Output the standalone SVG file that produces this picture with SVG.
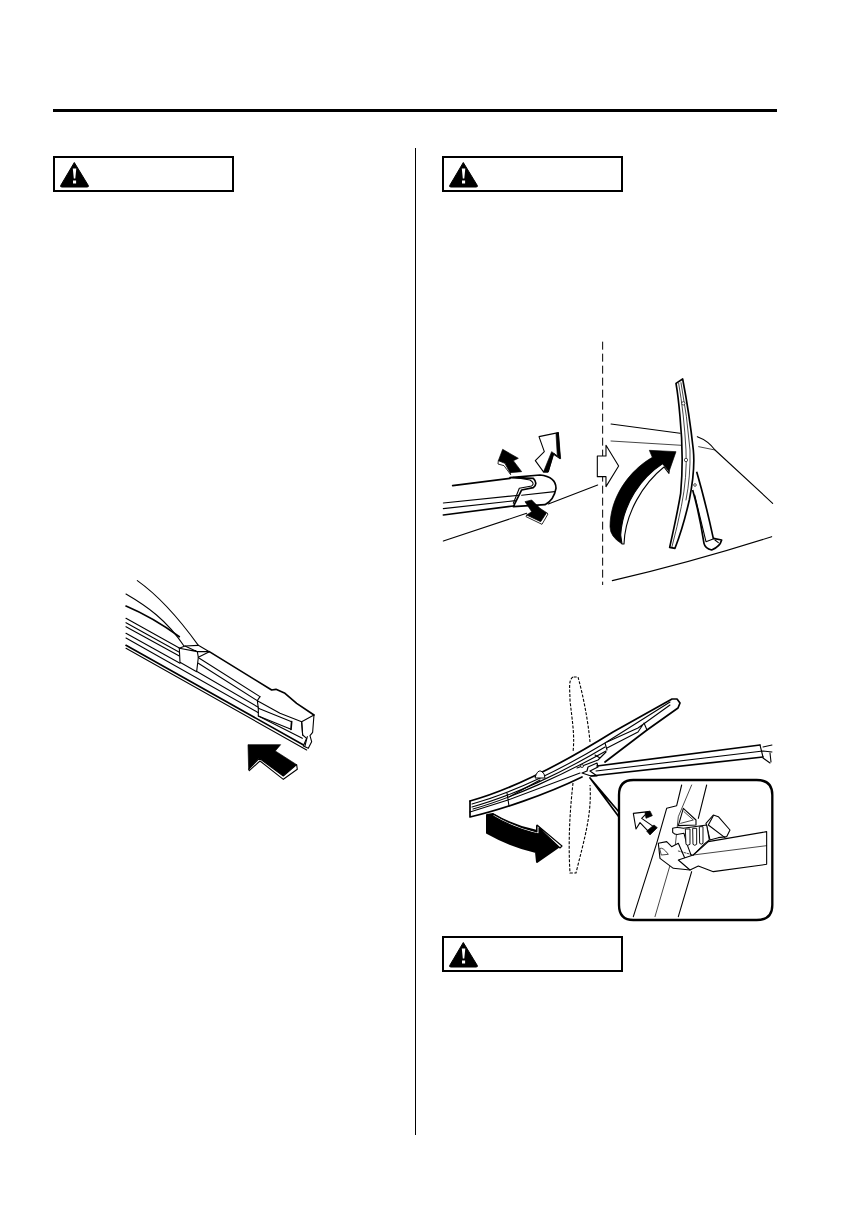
<svg xmlns="http://www.w3.org/2000/svg" width="866" height="1216" viewBox="0 0 866 1216">
<style>
.l{fill:none;stroke:#000;stroke-width:3.300;stroke-linejoin:round;stroke-linecap:round}
.m{fill:none;stroke:#000;stroke-width:5;stroke-linejoin:round;stroke-linecap:round}
.t{fill:none;stroke:#000;stroke-width:2.200;stroke-linejoin:round;stroke-linecap:round}
.w{fill:#fff;stroke:#000;stroke-width:3.300;stroke-linejoin:round}
.wm{fill:#fff;stroke:#000;stroke-width:5;stroke-linejoin:round}
.b{fill:#000;stroke:#000;stroke-width:2;stroke-linejoin:round}
.L{fill:none;stroke:#000;stroke-width:1.100;stroke-linejoin:round;stroke-linecap:round}
.M{fill:none;stroke:#000;stroke-width:1.700;stroke-linejoin:round;stroke-linecap:round}
.W{fill:#fff;stroke:#000;stroke-width:1.100;stroke-linejoin:round}
.d{fill:none;stroke:#000;stroke-width:3;stroke-dasharray:8 4}
.box{fill:#fff;stroke:#000;stroke-width:2}
</style>
<defs>
<g id="warn">
<rect class="box" x="0" y="0" width="179" height="34"/>
<path d="M20.300 5.500L34.300 28.500Q35 30 33 30H8Q6 30 6.700 28.500Z" fill="#000" stroke="#000" stroke-linejoin="round"/>
<path d="M18.800 11.500H22.300L21.300 21.500H19.800ZM19 23.500H22.100V26.500H19Z" fill="#fff"/>
</g>
</defs>
<rect width="866" height="1216" fill="#fff"/>
<g id="page-rules">
<rect x="53" y="109" width="724" height="3" fill="#000"/>
<rect x="415" y="148" width="1" height="987" fill="#000"/>
</g>
<g id="warning-1"><use href="#warn" x="54" y="157"/></g>
<g id="warning-2"><use href="#warn" x="443" y="157"/></g>
<g id="warning-3"><use href="#warn" x="443" y="937"/></g>

<g id="blade-end" transform="translate(110 570) scale(.3333)">
<path class="l" d="M82 32C150 80 210 150 265 226"/>
<path class="l" d="M48 72C110 108 170 150 222 228"/>
<path class="m" d="M48 108C100 130 160 165 208 200"/>
<path class="l" d="M48 145L208 234M48 158L208 247M48 170L208 258M48 190L210 280M48 204L445 428"/>
<path class="m" d="M48 226L590 530"/>
<path class="l" d="M48 235L590 540"/>
<path class="l" d="M268 265L450 380M265 280L442 392M262 305L445 412"/>
<path class="m" d="M298 245L485 360L498 358L525 370L560 400L612 435"/>
<path class="l" d="M450 380L442 392L445 415V438L577 505M442 392L510 430L575 455"/>
<path class="l" d="M445 415L545 455M445 438L543 478"/>
<path class="m" d="M545 455L543 478"/>
<path class="w" d="M208 235L225 228L265 226L298 245L265 262L260 305L210 277Z"/>
<path class="l" d="M225 228L262 245L298 245M262 245L265 262M208 235L262 245"/>
<path class="w" d="M575 455L612 435L608 487L600 497L605 515L595 535L580 528L590 505L578 495Z"/>
<path class="l" d="M575 455L578 495M592 500L585 528"/>
<path class="b" d="M414 524L512 524L496 543L560 584L520 618L448 565L416 598Z"/>
<path class="w" d="M448 565L416 598L418 602L450 573L520 628L562 598L560 584L520 618Z"/>
</g>

<g id="wiper-arm-detail" transform="translate(430 340) scale(.3333)">
<path class="d" style="stroke-width:3;stroke-dasharray:24 12" d="M518 5V735"/>
<path class="m" d="M68 437L240 415"/>
<path class="l" d="M40 489L275 465M40 506L256 482"/>
<path class="m" d="M40 525L250 498"/>
<path class="l" d="M40 603L290 520M355 492L503 435"/>
<path class="wm" d="M240 413L330 405Q378 410 378 445Q372 480 345 494L250 500L275 450L310 443Q325 430 310 415Z"/>
<path class="l" d="M275 466L374 455"/>
<path class="l" d="M250 412L300 420Q316 430 305 438L268 445L250 490"/>
<path class="b" d="M205 362L218 328L265 355L250 362L275 395L240 398L225 370Z"/>
<path class="w" style="stroke-width:2.500" d="M205 362L225 370L240 398L242 404L222 377L204 372Z"/>
<path class="b" d="M285 485L305 480L330 505L350 518L332 545L290 525L305 515Z"/>
<path class="w" style="stroke-width:2.500" d="M290 525L332 545L350 518L354 522L336 553L288 530Z"/>
<path class="w" d="M327 290L385 278L390 356L370 342L355 395L340 395L316 362L343 335Z"/>
<path class="b" d="M378 280L385 278L392 356L372 340L354 397L340 397L365 335L382 348Z"/>
<path class="w" d="M502 348H528V316L566 378L528 440V410H502Z"/>
</g>

<g id="wiper-raised" transform="translate(600 370) scale(.3333)">
<path class="l" d="M33 162L240 190M292 200Q325 212 345 240L518 400"/>
<path class="t" d="M33 213L245 226M296 230L345 240"/>
<path class="l" d="M37 632Q280 575 515 500"/>
<path class="wm" d="M228 40L248 27Q268 130 280 240Q286 300 268 390Q250 470 225 535L209 532Q232 430 242 370Q252 260 240 140Q235 80 228 40Z"/>
<path class="t" d="M236 40Q252 130 258 240Q262 320 244 410Q232 470 216 530M243 38Q262 140 270 240Q272 320 258 390"/>
<circle cx="250" cy="100" r="5" fill="#fff" stroke="#000" stroke-width="2"/>
<circle cx="258" cy="270" r="5" fill="#fff" stroke="#000" stroke-width="2"/>
<path class="wm" d="M290 305Q315 390 340 505L365 510Q360 530 335 540Q315 535 312 520Q298 430 278 360"/>
<path class="l" d="M284 375L318 515L345 505M345 510L355 518"/>
<circle cx="285" cy="345" r="4" fill="#fff" stroke="#000" stroke-width="2"/>
<path class="b" d="M148 241L228 245L207 305L188 283C125 322 70 400 64 500L66 522Q30 500 30 470C30 380 90 300 157 262Z"/>
<path class="w" d="M66 522L72 522C75 430 130 340 192 291L207 310L207 303L188 281C125 322 68 400 62 495Z"/>
</g>

<g id="wiper-lower">
<path class="d" style="stroke-width:1.100;stroke-dasharray:3 1.500" d="M573 677C568 680 570 690 570 700C572 720 575 735 573 752M573 783C570 810 568 840 570 873L576 873C584 840 592 815 590 785M590 742C588 720 583 695 578 677H573"/>
<path class="W" style="stroke:none" d="M470 801C510 790 560 765 613 732L672 699L680 703L678 708L647 730L605 762L582 777C545 795 500 810 470 817Z"/>
<path class="M" d="M470 801C510 790 560 765 613 732L672 699L677 699L680 703L678 708L647 730L605 762"/>
<path class="L" d="M472 804C512 793 560 770 605 743L670 702M472 807C512 796 562 773 605 747M473 809C512 798 563 775 606 751"/>
<path class="L" d="M470 812L508 800L580 773M507 793L509 806M509 797L540 780"/>
<path class="L" d="M605 743L607 750M595 755L600 758M638 732L644 723L647 730M577 768L598 760L606 752M607 742L638 728L670 705M607 748L638 732"/>
<path class="M" d="M470 817C500 810 545 795 582 777M470 801V817"/>
<path class="W" style="stroke-width:1" d="M535 778Q537 770 541 771Q545 773 545 778Z"/>
<circle cx="582" cy="766" r="1.500" fill="#fff" stroke="#000" stroke-width=".8"/>
<path class="W" style="stroke-width:1.200" d="M582 773L587 771L588 767L597 763L598 767L590 771L597 776L591 776Z"/>
<path class="M" d="M597 766L760 745M591 776L763 757"/>
<path class="L" d="M596 771L763 751M760 745L763 757M763 747L772 745M763 751L772 752M763 758L770 763M770 753L771 762"/>
<path class="M" d="M590 778L619 812M590 778L619 817"/>
<path class="b" d="M487 815L493 814Q513 826 537 831L537 826L560 846L537 862L536 852Q510 846 487 833Z"/>
<path class="W" d="M493 814Q515 827 537 832L537 825L562 846L560 848L539 828L539 834Q515 829 493 816Z"/>
</g>

<g id="inset" transform="translate(610 775) scale(.3333)">
<path class="w" style="stroke-width:7" d="M70 15H440Q487 15 487 60V390Q487 435 440 435H70Q27 435 27 390V60Q27 15 70 15Z"/>
<path class="l" d="M215 30L200 92L170 100L140 205L70 425"/>
<path class="t" d="M245 30L205 125L195 220L135 425"/>
<path class="l" d="M290 30L265 130M245 290L205 425"/>
<path class="w" d="M145 205L170 200L185 215L205 205L240 285L190 280L150 250Z"/>
<path class="t" d="M150 220Q158 215 175 238L155 240Z"/>
<path class="w" d="M220 100L258 135L258 150L205 152Z"/>
<path class="t" d="M222 110L250 135L212 145"/>
<path class="w" d="M288 145L310 120L325 125L360 165L350 185L325 188L300 195Z"/>
<path class="l" d="M310 122L295 150L345 188"/>
<path class="w" d="M188 160Q200 155 220 160L290 150L298 195L285 205L245 245L230 205L222 175L205 178Q195 180 188 172Z"/>
<path class="w" style="stroke-width:2.800" d="M226 162H240V208Q233 214 228 208ZM248 160H260V208Q254 214 249 208ZM268 155H279V205Q274 210 269 205Z"/>
<path class="w" d="M295 200L470 170V268L310 290L265 273L240 285L205 255L250 240Z"/>
<path class="t" d="M250 240L470 212"/>
<path class="t" style="stroke-dasharray:5 4" d="M205 228L250 240"/>
<path class="w" d="M70 115L115 110L95 130L135 158L118 172L90 143L78 162Z"/>
<path class="b" d="M105 112L120 108L127 122L108 130ZM132 150L142 158L120 180L110 168Z"/>
</g>
</svg>
